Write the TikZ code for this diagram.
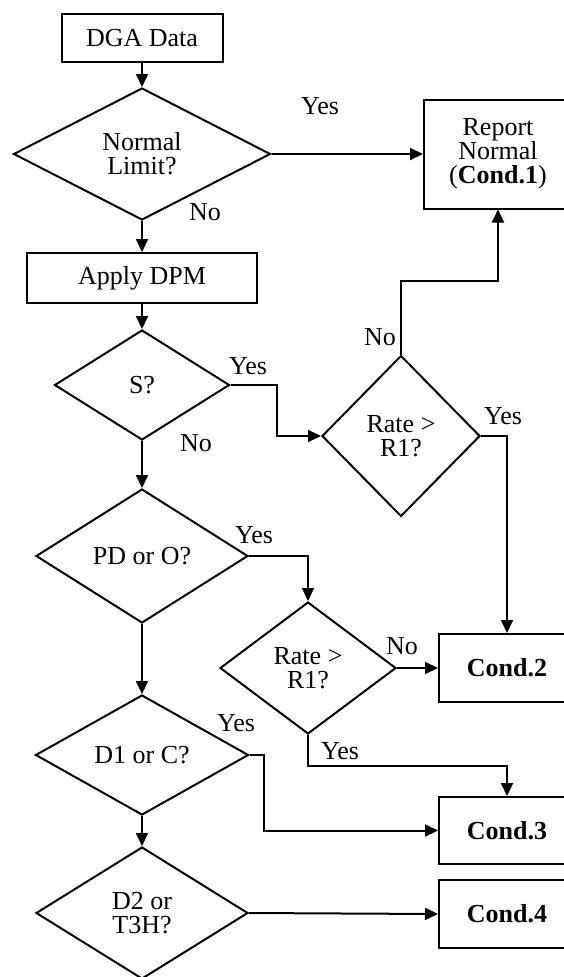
\documentclass[tikz,border=0pt]{standalone}
\usepackage{fontspec}
\setmainfont{Liberation Serif}
\usetikzlibrary{shapes.geometric,arrows.meta}
\begin{document}
\begin{tikzpicture}[x=1pt,y=-1pt,
  every node/.style={font=\fontsize{26}{24}\selectfont, inner sep=0pt, align=center},
  box/.style={draw, line width=2pt, rectangle},
  dia/.style={draw, line width=2pt, diamond},
  arr/.style={line width=2pt, -{Triangle[length=13pt,width=12pt]}}]
\useasboundingbox (0,0) rectangle (563,977);
% nodes
\node[box, minimum width=161pt, minimum height=48pt] (dga) at (142,38) {DGA Data};
\node[dia, minimum width=257pt, minimum height=132pt, aspect=1.95] (nl) at (142,154) {Normal\\Limit?};
\node[box, minimum width=148pt, minimum height=109pt] (rep) at (498,154) {Report\\Normal\\(\textbf{Cond.1})};
\node[box, minimum width=230pt, minimum height=50pt] (apply) at (142,278) {Apply DPM};
\node[dia, minimum width=175pt, minimum height=110pt, aspect=1.6] (s) at (142,385) {S?};
\node[dia, minimum width=158pt, minimum height=161pt, aspect=1] (r1) at (401,436) {Rate >\\R1?};
\node[dia, minimum width=212pt, minimum height=134pt, aspect=1.58] (pd) at (142,556) {PD or O?};
\node[dia, minimum width=176pt, minimum height=132pt, aspect=1.33] (r2) at (308,668) {Rate >\\R1?};
\node[box, minimum width=136pt, minimum height=68pt] (c2) at (507,668) {\textbf{Cond.2}};
\node[dia, minimum width=213pt, minimum height=120pt, aspect=1.78] (d1) at (142,755) {D1 or C?};
\node[box, minimum width=136pt, minimum height=67pt] (c3) at (507,830.5) {\textbf{Cond.3}};
\node[dia, minimum width=212pt, minimum height=132pt, aspect=1.6] (d2) at (142,913) {D2 or\\T3H?};
\node[box, minimum width=136pt, minimum height=68pt] (c4) at (507,914) {\textbf{Cond.4}};
% labels
\node (lyes1) at (320,106) {Yes};
\node (lno1) at (205,212) {No};
\node (lyes2) at (248,366) {Yes};
\node (lno2) at (196,443) {No};
\node (lno3) at (380,337) {No};
\node (lyes3) at (503,416) {Yes};
\node (lyes4) at (254,535) {Yes};
\node (lno4) at (402,646) {No};
\node (lyes5) at (340,751) {Yes};
\node (lyes6) at (236,723) {Yes};
% connectors
\draw[arr] (dga.south) -- (nl.north);
\draw[arr] (nl.east) -- (rep.west);
\draw[arr] (nl.south) -- (apply.north);
\draw[arr] (apply.south) -- (s.north);
\draw[arr] (s.east) -- ++(46,0) |- (r1.west);
\draw[arr] (s.south) -- (pd.north);
\draw[arr] (r1.north) -- ++(0,-74) -| (rep.south);
\draw[arr] (r1.east) -| (c2.north);
\draw[arr] (pd.east) -| (r2.north);
\draw[arr] (pd.south) -- (d1.north);
\draw[arr] (r2.east) -- (c2.west);
\draw[arr] (r2.south) -- ++(0,31) -| (c3.north);
\draw[arr] (d1.east) -- ++(14,0) |- (c3.west);
\draw[arr] (d1.south) -- (d2.north);
\draw[arr] (d2.east) -- (c4.west);
\end{tikzpicture}
\end{document}
